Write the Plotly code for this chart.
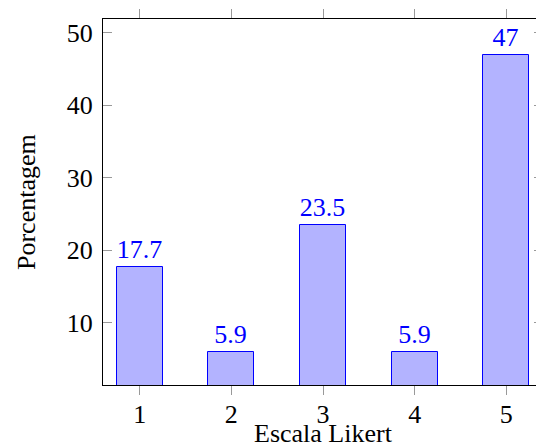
import plotly.graph_objects as go

categories = [1, 2, 3, 4, 5]
values = [17.7, 5.9, 23.5, 5.9, 47]
labels = ["17.7", "5.9", "23.5", "5.9", "47"]
y_ticks = [10, 20, 30, 40, 50]

FONT = "Liberation Serif"
FS = 26
# page body has an 8px margin: figure occupies 536x440 of the 544x448 window
fig = go.Figure(go.Bar(
    x=categories, y=values, width=0.5,
    marker=dict(color="#b3b3ff", line=dict(color="#0000ff", width=1)),
    text=labels, textposition="outside", cliponaxis=False,
    textfont=dict(color="#0000ff", size=FS, family=FONT),
))
fig.update_layout(
    width=536, height=440,
    margin=dict(l=95, r=1, t=11, b=63, autoexpand=False),
    plot_bgcolor="white", paper_bgcolor="white",
    font=dict(family=FONT, size=FS, color="black"),
    showlegend=False, bargap=0,
    xaxis=dict(range=[0.6, 5.4], tickvals=categories, ticks="outside", ticklen=9,
               tickcolor="#999999", showline=True, linecolor="black", linewidth=1,
               mirror="ticks", showgrid=False, zeroline=False, automargin=False,
               ticklabelstandoff=-3),
    yaxis=dict(range=[1.35, 51.93], tickvals=y_ticks, ticks="inside", ticklen=9,
               tickcolor="#999999", showline=True, linecolor="black", linewidth=1,
               mirror="ticks", showgrid=False, zeroline=False, automargin=False,
               ticklabelstandoff=4),
    annotations=[
        dict(text="Escala Likert", xref="paper", yref="paper", x=0.5, y=0,
             xanchor="center", yanchor="top", yshift=-33, borderpad=0, showarrow=False,
             font=dict(size=FS, family=FONT)),
        dict(text="Porcentagem", xref="paper", yref="paper", x=0, y=0.5,
             xanchor="center", yanchor="middle", xshift=-77, textangle=-90,
             showarrow=False, font=dict(size=FS, family=FONT)),
    ],
)
fig.write_html("out.html")
